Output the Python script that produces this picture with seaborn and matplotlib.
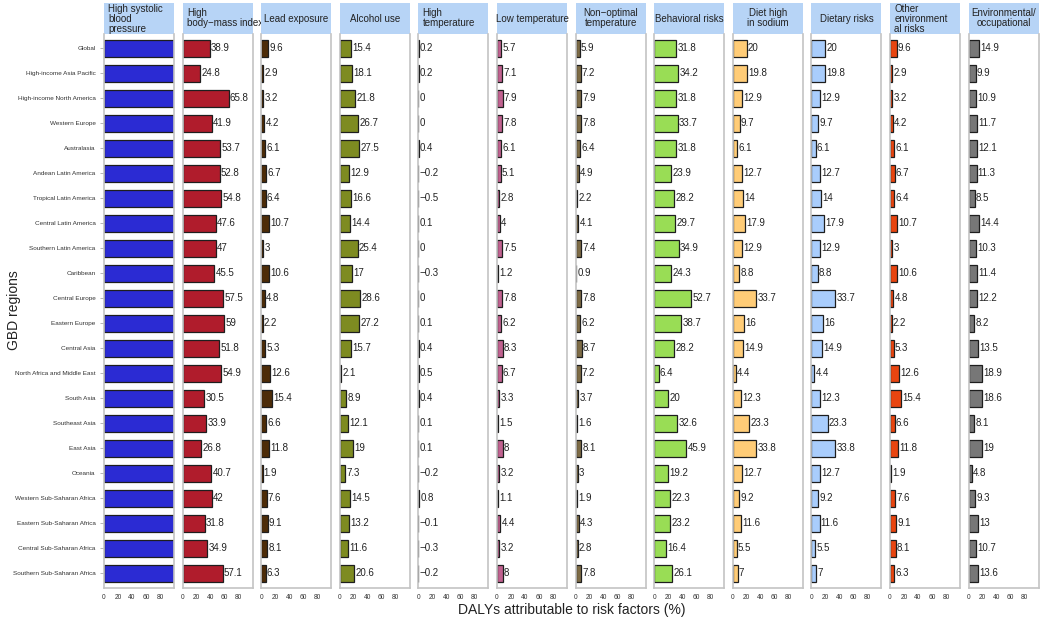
import pandas as pd
import seaborn as sns
import matplotlib.pyplot as plt
from matplotlib.patches import Rectangle

# данные: регионы и доли DALY по факторам риска (%)
regions = [
    "Global", "High-income Asia Pacific", "High-income North America",
    "Western Europe", "Australasia", "Andean Latin America",
    "Tropical Latin America", "Central Latin America", "Southern Latin America",
    "Caribbean", "Central Europe", "Eastern Europe", "Central Asia",
    "North Africa and Middle East", "South Asia", "Southeast Asia", "East Asia",
    "Oceania", "Western Sub-Saharan Africa", "Eastern Sub-Saharan Africa",
    "Central Sub-Saharan Africa", "Southern Sub-Saharan Africa",
]

high_sbp = [100] * 22  # столбцы упираются в правый край панели, подписей нет
high_bmi = [38.9, 24.8, 65.8, 41.9, 53.7, 52.8, 54.8, 47.6, 47, 45.5, 57.5,
            59, 51.8, 54.9, 30.5, 33.9, 26.8, 40.7, 42, 31.8, 34.9, 57.1]
lead = [9.6, 2.9, 3.2, 4.2, 6.1, 6.7, 6.4, 10.7, 3, 10.6, 4.8,
        2.2, 5.3, 12.6, 15.4, 6.6, 11.8, 1.9, 7.6, 9.1, 8.1, 6.3]
alcohol = [15.4, 18.1, 21.8, 26.7, 27.5, 12.9, 16.6, 14.4, 25.4, 17, 28.6,
           27.2, 15.7, 2.1, 8.9, 12.1, 19, 7.3, 14.5, 13.2, 11.6, 20.6]
high_temp = [0.2, 0.2, 0, 0, 0.4, -0.2, -0.5, 0.1, 0, -0.3, 0,
             0.1, 0.4, 0.5, 0.4, 0.1, 0.1, -0.2, 0.8, -0.1, -0.3, -0.2]
low_temp = [5.7, 7.1, 7.9, 7.8, 6.1, 5.1, 2.8, 4, 7.5, 1.2, 7.8,
            6.2, 8.3, 6.7, 3.3, 1.5, 8, 3.2, 1.1, 4.4, 3.2, 8]
nonopt_temp = [5.9, 7.2, 7.9, 7.8, 6.4, 4.9, 2.2, 4.1, 7.4, 0.9, 7.8,
               6.2, 8.7, 7.2, 3.7, 1.6, 8.1, 3, 1.9, 4.3, 2.8, 7.8]
behavioral = [31.8, 34.2, 31.8, 33.7, 31.8, 23.9, 28.2, 29.7, 34.9, 24.3, 52.7,
              38.7, 28.2, 6.4, 20, 32.6, 45.9, 19.2, 22.3, 23.2, 16.4, 26.1]
sodium = [20, 19.8, 12.9, 9.7, 6.1, 12.7, 14, 17.9, 12.9, 8.8, 33.7,
          16, 14.9, 4.4, 12.3, 23.3, 33.8, 12.7, 9.2, 11.6, 5.5, 7]
dietary = [20, 19.8, 12.9, 9.7, 6.1, 12.7, 14, 17.9, 12.9, 8.8, 33.7,
           16, 14.9, 4.4, 12.3, 23.3, 33.8, 12.7, 9.2, 11.6, 5.5, 7]
other_env = [9.6, 2.9, 3.2, 4.2, 6.1, 6.7, 6.4, 10.7, 3, 10.6, 4.8,
             2.2, 5.3, 12.6, 15.4, 6.6, 11.8, 1.9, 7.6, 9.1, 8.1, 6.3]
env_occ = [14.9, 9.9, 10.9, 11.7, 12.1, 11.3, 8.5, 14.4, 10.3, 11.4, 12.2,
           8.2, 13.5, 18.9, 18.6, 8.1, 19, 4.8, 9.3, 13, 10.7, 13.6]

# (заголовок, данные, цвет, выравнивание заголовка, подписывать ли значения)
panels = [
    ("High systolic\nblood\npressure", high_sbp, "#2b2bd3", "left", False),
    ("High\nbody\u2212mass index", high_bmi, "#b01c2c", "left", True),
    ("Lead exposure", lead, "#4d2c08", "center", True),
    ("Alcohol use", alcohol, "#7e8b21", "center", True),
    ("High\ntemperature", high_temp, "#b0b0b0", "left", True),
    ("Low temperature", low_temp, "#c0618f", "center", True),
    ("Non\u2212optimal\ntemperature", nonopt_temp, "#7d6b45", "center", True),
    ("Behavioral risks", behavioral, "#99dd55", "center", True),
    ("Diet high\nin sodium", sodium, "#ffcc77", "center", True),
    ("Dietary risks", dietary, "#a9cdfc", "center", True),
    ("Other\nenvironment\nal risks", other_env, "#e84510", "left", True),
    ("Environmental/\noccupational", env_occ, "#777777", "center", True),
]

sns.set_style("white")
plt.rcParams["font.family"] = ["Liberation Sans", "DejaVu Sans"]

W, H = 1041, 618
fig = plt.figure(figsize=(W / 100, H / 100), dpi=100)

left0, step, pw = 104, 78.6, 70
top_px, bot_px, hdr_top = 34, 588, 2
ax_h = (bot_px - top_px) / H
hdr_h = (top_px - hdr_top - 1) / (bot_px - top_px)

df = pd.DataFrame({"region": regions})

for i, (title, vals, color, align, show) in enumerate(panels):
    ax = fig.add_axes([(left0 + i * step) / W, 1 - bot_px / H, pw / W, ax_h])
    df["value"] = vals
    sns.barplot(data=df, x="value", y="region", orient="h", color=color,
                saturation=1, edgecolor="#1e1e1e", linewidth=0.9, width=0.68, ax=ax)
    ax.set_xlim(0, 100)
    ax.set_ylim(21.6, -0.56)
    ax.set_xticks([0, 20, 40, 60, 80])
    ax.tick_params(axis="x", labelsize=4.8, colors="#333333", length=2.5,
                   width=0.6, pad=2, color="#aaaaaa")
    ax.set_xlabel("")
    ax.set_ylabel("")
    if i == 0:
        ax.tick_params(axis="y", labelsize=4.6, colors="#333333", length=3,
                       width=0.6, pad=3, color="#aaaaaa", left=True)
    else:
        ax.set_yticklabels([])
        ax.tick_params(axis="y", length=0)
    for side in ["left", "right", "bottom"]:
        ax.spines[side].set_color("#c4c4c4")
        ax.spines[side].set_linewidth(1.2)
    ax.spines["top"].set_visible(False)

    if show:
        for j, v in enumerate(vals):
            txt = f"{v:g}".replace("-", "\u2212")
            ax.text(max(v, 0) + 1.8, j, txt, va="center", ha="left",
                    fontsize=7, color="#222222")

    # шапка панели
    ax.add_patch(Rectangle((0, 1), 1, hdr_h, transform=ax.transAxes,
                           clip_on=False, facecolor="#b7d4f6", edgecolor="none"))
    tx = 0.06 if align == "left" else 0.5
    ax.text(tx, 1 + hdr_h / 2, title, transform=ax.transAxes, ha=align,
            va="center", fontsize=7, color="#222222", linespacing=1.0,
            multialignment=align)

fig.text((left0 + (left0 + 11 * step + pw)) / 2 / W, 1 - 610 / H,
         "DALYs attributable to risk factors (%)", ha="center", va="center",
         fontsize=10, color="#222222")
fig.text(14 / W, 1 - 310 / H, "GBD regions", rotation=90, ha="center",
         va="center", fontsize=10, color="#222222")

fig.savefig("out.png", dpi=100)
